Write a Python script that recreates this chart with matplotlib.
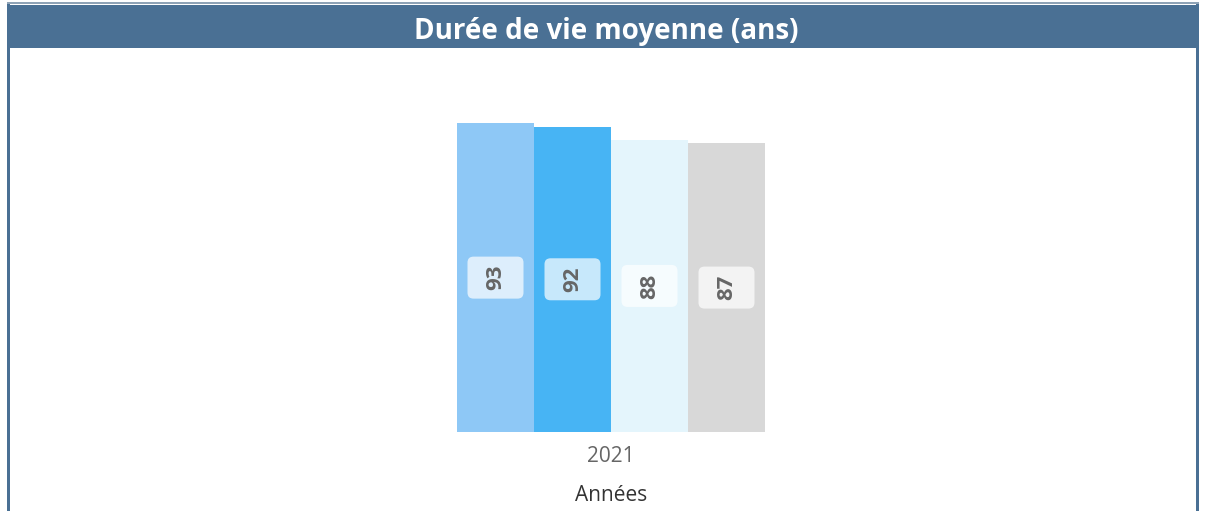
import matplotlib
matplotlib.use("Agg")
import matplotlib.pyplot as plt
from matplotlib.patches import Rectangle, FancyBboxPatch
from matplotlib.transforms import Affine2D, ScaledTranslation

# données
annees = ["2021"]
valeurs = [93, 92, 88, 87]
couleurs = ["#8ec8f6", "#47b4f4", "#e4f5fc", "#d8d8d8"]
positions = [-1.5, -0.5, 0.5, 1.5]

plt.rcParams['font.family'] = ['Open Sans', 'DejaVu Sans']

W, H = 1206, 511
fig = plt.figure(figsize=(W / 100, H / 100), dpi=100)
fig.patch.set_facecolor("white")

# cadre + bandeau du titre
cadre = [
    Rectangle((7, 0), 3, H - 3, facecolor="#4a7094"),
    Rectangle((1196, 0), 3, H - 3, facecolor="#4a7094"),
    Rectangle((7, H - 4), 1192, 2, facecolor="#8fa3b6"),
    Rectangle((10, H - 48), 1186, 43, facecolor="#4a7094"),
]
for r in cadre:
    r.set_transform(None)
    r.set_edgecolor("none")
    r.set_zorder(-1)
    fig.patches.append(r)
fig.text(606 / W, 1 - 31 / H, "Durée de vie moyenne (ans)", color="white",
         fontsize=20, fontweight="bold", ha="center", va="center")

# axes : barres de x=457 à 765 px, y=432 (0) à 100 (100)
ax = fig.add_axes([457 / W, 1 - 432 / H, (765 - 457) / W, (432 - 100) / H])
ax.set_facecolor("none")
ax.bar(positions, valeurs, width=1.0, color=couleurs)
ax.set_xlim(-2, 2)
ax.set_ylim(0, 100)
for s in ax.spines.values():
    s.set_visible(False)
ax.set_yticks([])
ax.set_xticks([0])
ax.set_xticklabels(annees, color="#666666", fontsize=15)
ax.tick_params(axis="x", length=0, pad=10)
ax.set_xlabel("Années", color="#333333", fontsize=15, labelpad=13)

# étiquettes : boîte arrondie (en pixels) centrée sur le milieu de la barre
for x, v in zip(positions, valeurs):
    tr = Affine2D() + ScaledTranslation(x, v / 2, ax.transData)
    box = FancyBboxPatch((-28, -21), 56, 42, boxstyle="round,pad=0,rounding_size=6",
                         transform=tr, facecolor="white", alpha=0.7,
                         edgecolor="none", zorder=3)
    ax.add_artist(box)
    ax.text(x, v / 2, str(v), rotation=90, ha="center", va="center",
            fontsize=16, fontweight="bold", color="#666666", zorder=4)

fig.savefig("out.png", dpi=100)
